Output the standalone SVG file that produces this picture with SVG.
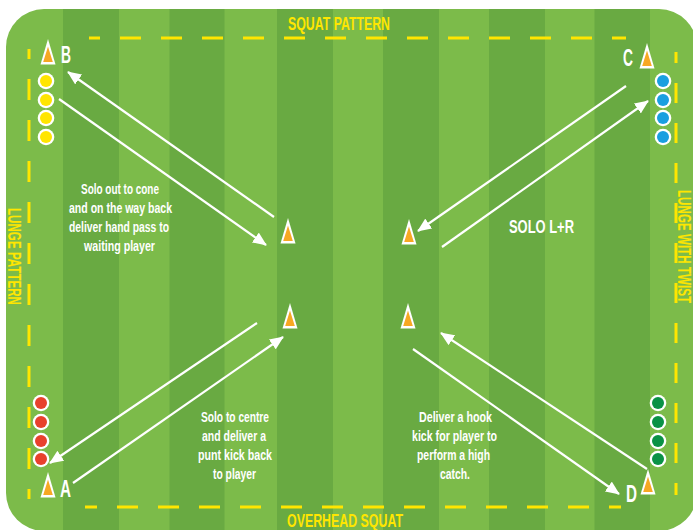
<svg xmlns="http://www.w3.org/2000/svg" width="693" height="530" viewBox="0 0 693 530">
<style>
.t{font-family:"Liberation Sans",Arial,sans-serif;font-weight:bold;fill:#fff;}
.body{font-size:15px;text-anchor:middle;}
.side{font-size:19px;fill:#ffe600;text-anchor:middle;}
.let{font-size:23px;}
.dash{stroke:#ffe600;stroke-width:3;fill:none;}
.arr{stroke:#fff;stroke-width:2.2;fill:none;marker-end:url(#ah);}
.ring{fill:#fff;}
</style>
<defs>
<clipPath id="fieldClip"><rect x="6" y="9" width="691" height="522" rx="38" ry="38"/></clipPath>
<marker id="ah" viewBox="0 0 14 12" refX="13" refY="6" markerWidth="14" markerHeight="12" markerUnits="userSpaceOnUse" orient="auto">
<path d="M0,0 L14,6 L0,12 z" fill="#fff"/>
</marker>
<g id="cone">
<polygon points="0,0 -7.5,25.5 7.5,25.5" fill="#fff"/>
<polygon points="0,7.5 -4.8,23 4.8,23" fill="#f7a823"/>
</g>
</defs>
<rect width="693" height="530" fill="#fff"/>
<g id="field" clip-path="url(#fieldClip)">
<rect x="6" y="9" width="691" height="522" fill="#7cbb4a"/>
<g fill="#69aa42">
<rect x="63" y="0" width="56" height="530"/>
<rect x="169.5" y="0" width="55" height="530"/>
<rect x="277" y="0" width="56" height="530"/>
<rect x="383" y="0" width="56" height="530"/>
<rect x="489" y="0" width="56" height="530"/>
<rect x="594.5" y="0" width="55.5" height="530"/>
</g>
</g>
<g id="boundary">
<line class="dash" x1="89" y1="38" x2="626" y2="38" stroke-dasharray="21 20" stroke-dashoffset="10"/>
<line class="dash" x1="85" y1="507" x2="621" y2="507" stroke-dasharray="21 20" stroke-dashoffset="9"/>
<line class="dash" x1="29" y1="49" x2="29" y2="499" stroke-dasharray="21 20" stroke-dashoffset="11"/>
<line class="dash" x1="676" y1="52" x2="676" y2="495" stroke-dasharray="20 20" stroke-dashoffset="9"/>
</g>
<g id="connectors">
<line class="arr" x1="274" y1="217" x2="68" y2="72"/>
<line class="arr" x1="59" y1="99" x2="266" y2="245"/>
<line class="arr" x1="626" y1="86" x2="418" y2="231"/>
<line class="arr" x1="442" y1="247" x2="648" y2="101"/>
<line class="arr" x1="257" y1="323" x2="50" y2="463"/>
<line class="arr" x1="73" y1="483" x2="283" y2="337"/>
<line class="arr" x1="413" y1="349" x2="619" y2="494"/>
<line class="arr" x1="647" y1="469" x2="441" y2="333"/>
</g>
<g id="cone-B"><use href="#cone" x="48" y="39"/><text class="t let" x="61" y="63" textLength="10" lengthAdjust="spacingAndGlyphs">B</text></g>
<g id="cone-C"><use href="#cone" x="647" y="43"/><text class="t let" x="623" y="66" textLength="10" lengthAdjust="spacingAndGlyphs">C</text></g>
<g id="cone-A"><use href="#cone" x="48" y="472"/><text class="t let" x="60" y="497" textLength="11" lengthAdjust="spacingAndGlyphs">A</text></g>
<g id="cone-D"><use href="#cone" x="648" y="469"/><text class="t let" x="626" y="502" textLength="11" lengthAdjust="spacingAndGlyphs">D</text></g>
<g id="cone-center-tl"><use href="#cone" x="288" y="218"/></g>
<g id="cone-center-tr"><use href="#cone" x="409" y="219"/></g>
<g id="cone-center-bl"><use href="#cone" x="290" y="303"/></g>
<g id="cone-center-br"><use href="#cone" x="408" y="303"/></g>
<g id="balls-yellow">
<circle class="ring" cx="46" cy="81" r="8.3"/><circle cx="46" cy="81" r="6" fill="#ffe500"/>
<circle class="ring" cx="46" cy="100" r="8.3"/><circle cx="46" cy="100" r="6" fill="#ffe500"/>
<circle class="ring" cx="46" cy="118" r="8.3"/><circle cx="46" cy="118" r="6" fill="#ffe500"/>
<circle class="ring" cx="46" cy="137" r="8.3"/><circle cx="46" cy="137" r="6" fill="#ffe500"/>
</g>
<g id="balls-blue">
<circle class="ring" cx="663" cy="81" r="8.3"/><circle cx="663" cy="81" r="6" fill="#1a9fe0"/>
<circle class="ring" cx="663" cy="100" r="8.3"/><circle cx="663" cy="100" r="6" fill="#1a9fe0"/>
<circle class="ring" cx="663" cy="118" r="8.3"/><circle cx="663" cy="118" r="6" fill="#1a9fe0"/>
<circle class="ring" cx="663" cy="137" r="8.3"/><circle cx="663" cy="137" r="6" fill="#1a9fe0"/>
</g>
<g id="balls-red">
<circle class="ring" cx="41" cy="403" r="8.3"/><circle cx="41" cy="403" r="6" fill="#e8412c"/>
<circle class="ring" cx="41" cy="422" r="8.3"/><circle cx="41" cy="422" r="6" fill="#e8412c"/>
<circle class="ring" cx="41" cy="441" r="8.3"/><circle cx="41" cy="441" r="6" fill="#e8412c"/>
<circle class="ring" cx="41" cy="459" r="8.3"/><circle cx="41" cy="459" r="6" fill="#e8412c"/>
</g>
<g id="balls-green">
<circle class="ring" cx="658" cy="403" r="8.3"/><circle cx="658" cy="403" r="6" fill="#0a9246"/>
<circle class="ring" cx="658" cy="422" r="8.3"/><circle cx="658" cy="422" r="6" fill="#0a9246"/>
<circle class="ring" cx="658" cy="441" r="8.3"/><circle cx="658" cy="441" r="6" fill="#0a9246"/>
<circle class="ring" cx="658" cy="459" r="8.3"/><circle cx="658" cy="459" r="6" fill="#0a9246"/>
</g>
<g id="label-top-left">
<text class="t body" x="120" y="194" textLength="78" lengthAdjust="spacingAndGlyphs">Solo out to cone</text>
<text class="t body" x="120.5" y="213" textLength="103" lengthAdjust="spacingAndGlyphs">and on the way back</text>
<text class="t body" x="119" y="232" textLength="100" lengthAdjust="spacingAndGlyphs">deliver hand pass to</text>
<text class="t body" x="119.5" y="251" textLength="71" lengthAdjust="spacingAndGlyphs">waiting player</text>
</g>
<g id="label-solo">
<text class="t" x="509" y="233" font-size="19" textLength="65" lengthAdjust="spacingAndGlyphs">SOLO L+R</text>
</g>
<g id="label-bottom-left">
<text class="t body" x="235" y="422" textLength="68" lengthAdjust="spacingAndGlyphs">Solo to centre</text>
<text class="t body" x="234" y="441" textLength="64" lengthAdjust="spacingAndGlyphs">and deliver a</text>
<text class="t body" x="235" y="460" textLength="74" lengthAdjust="spacingAndGlyphs">punt kick back</text>
<text class="t body" x="234.5" y="479" textLength="43" lengthAdjust="spacingAndGlyphs">to player</text>
</g>
<g id="label-bottom-right">
<text class="t body" x="455.5" y="422" textLength="73" lengthAdjust="spacingAndGlyphs">Deliver a hook</text>
<text class="t body" x="454.5" y="441" textLength="85" lengthAdjust="spacingAndGlyphs">kick for player to</text>
<text class="t body" x="453.5" y="460" textLength="73" lengthAdjust="spacingAndGlyphs">perform a high</text>
<text class="t body" x="455" y="479" textLength="30" lengthAdjust="spacingAndGlyphs">catch.</text>
</g>
<g id="side-labels">
<text class="t side" x="339" y="30" textLength="102" lengthAdjust="spacingAndGlyphs">SQUAT PATTERN</text>
<text class="t side" x="345" y="526.5" font-size="18" textLength="116" lengthAdjust="spacingAndGlyphs">OVERHEAD SQUAT</text>
<text class="t side" transform="translate(8,256.5) rotate(90)" x="0" y="0" textLength="97" lengthAdjust="spacingAndGlyphs">LUNGE PATTERN</text>
<text class="t side" transform="translate(677.5,246.5) rotate(90)" x="0" y="0" font-size="16" textLength="113" lengthAdjust="spacingAndGlyphs">LUNGE WITH TWIST</text>
</g>
</svg>
